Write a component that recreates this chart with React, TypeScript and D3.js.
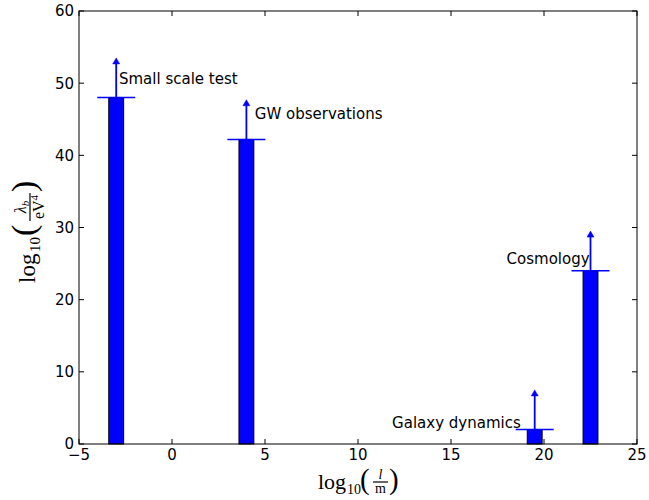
import * as d3 from "d3";

// bar positions (log10 l/m), lower bounds (log10 lambda_b / eV^4), arrow length
const centers = [-3, 4, 19.5, 22.5];
const values = [48, 42.2, 2, 24];
const arrowLen = [5.5, 5.5, 5.5, 5.5];
const barWidth = 0.8;

const labels = ["Small scale test", "GW observations", "Galaxy dynamics", "Cosmology"];
const labelX = [-2.85, 4.45, 18.75, 22.45];
const labelY = [49.9, 45, 2.2, 25];
const labelAnchor = ["start", "start", "end", "end"];

const xTicks = [-5, 0, 5, 10, 15, 20, 25];
const yTicks = [0, 10, 20, 30, 40, 50, 60];

const W = 649;
const H = 500;
const left = 79, right = 637, top = 11, bottom = 444;

const BLUE = "#0000ff";
const SANS = "DejaVu Sans, sans-serif";
const SERIF = "Liberation Serif, serif";

export default function App() {
    const x = d3.scaleLinear().domain([-5, 25]).range([left, right]);
    const y = d3.scaleLinear().domain([0, 60]).range([bottom, top]);
    const bw = x(barWidth) - x(0);
    const cap = 19;

    return (
        <svg width={W} height={H} style={{position: "absolute", left: 0, top: 0, background: "#fff"}}>
            {/* bars */}
            {centers.map((c, i) => (
                <rect key={"b" + i} x={x(c) - bw / 2} y={y(values[i])} width={bw} height={y(0) - y(values[i])}
                      fill={BLUE} stroke="#000" strokeWidth={1}/>
            ))}
            {/* lower-limit arrows */}
            {centers.map((c, i) => {
                const tip = y(values[i] + arrowLen[i]);
                return (
                    <g key={"a" + i} stroke={BLUE} fill={BLUE}>
                        <line x1={x(c) - cap} x2={x(c) + cap} y1={y(values[i])} y2={y(values[i])} strokeWidth={1.5}/>
                        <line x1={x(c)} x2={x(c)} y1={y(values[i])} y2={tip + 4} strokeWidth={1.8}/>
                        <path d={`M${x(c)},${tip} L${x(c) + 3.5},${tip + 6} L${x(c) - 3.5},${tip + 6} Z`} strokeWidth={0.5}/>
                    </g>
                );
            })}
            {/* annotations */}
            {labels.map((t, i) => (
                <text key={"l" + i} x={x(labelX[i])} y={y(labelY[i])} textAnchor={labelAnchor[i]}
                      fontFamily={SANS} fontSize={15}>{t}</text>
            ))}
            {/* frame */}
            <rect x={left} y={top} width={right - left} height={bottom - top} fill="none" stroke="#000" strokeWidth={1}/>
            {/* ticks */}
            {xTicks.map(t => (
                <g key={"xt" + t}>
                    <line x1={x(t)} x2={x(t)} y1={bottom} y2={bottom - 5} stroke="#000"/>
                    <line x1={x(t)} x2={x(t)} y1={top} y2={top + 5} stroke="#000"/>
                    <text x={x(t)} y={bottom + 16} textAnchor="middle" fontFamily={SANS} fontSize={15}>
                        {t < 0 ? "\u2212" + Math.abs(t) : t}
                    </text>
                </g>
            ))}
            {yTicks.map(t => (
                <g key={"yt" + t}>
                    <line x1={left} x2={left + 5} y1={y(t)} y2={y(t)} stroke="#000"/>
                    <line x1={right} x2={right - 5} y1={y(t)} y2={y(t)} stroke="#000"/>
                    <text x={left - 5} y={y(t)} dy="0.36em" textAnchor="end" fontFamily={SANS} fontSize={15}>{t}</text>
                </g>
            ))}
            {/* x axis label: log10(l/m) */}
            <g transform="translate(318,489)" fontFamily={SERIF}>
                <text x={0} y={0} fontSize={22}>log</text>
                <text x={29} y={5} fontSize={14}>10</text>
                <text x={42} y={0} fontSize={29}>(</text>
                <text x={62.5} y={-10} fontSize={14} fontStyle="italic" textAnchor="middle">l</text>
                <line x1={55} x2={70} y1={-7} y2={-7} stroke="#000" strokeWidth={1.2}/>
                <text x={62.5} y={4} fontSize={14} textAnchor="middle">m</text>
                <text x={71} y={0} fontSize={29}>)</text>
            </g>
            {/* y axis label: log10(lambda_b / eV^4) */}
            <g transform="translate(35,283) rotate(-90)" fontFamily={SERIF}>
                <text x={0} y={0} fontSize={23}>log</text>
                <text x={31} y={5} fontSize={15}>10</text>
                <text x={47} y={0} fontSize={34}>(</text>
                <text x={76} y={-9} fontSize={16} textAnchor="middle">
                    <tspan fontStyle="italic">λ</tspan>
                    <tspan fontSize={11} fontStyle="italic" dy={3}>b</tspan>
                </text>
                <line x1={62} x2={90} y1={-5} y2={-5} stroke="#000" strokeWidth={1.2}/>
                <text x={76} y={9} fontSize={16} textAnchor="middle">
                    eV<tspan fontSize={11} dy={-6}>4</tspan>
                </text>
                <text x={91} y={0} fontSize={34}>)</text>
            </g>
        </svg>
    );
}
